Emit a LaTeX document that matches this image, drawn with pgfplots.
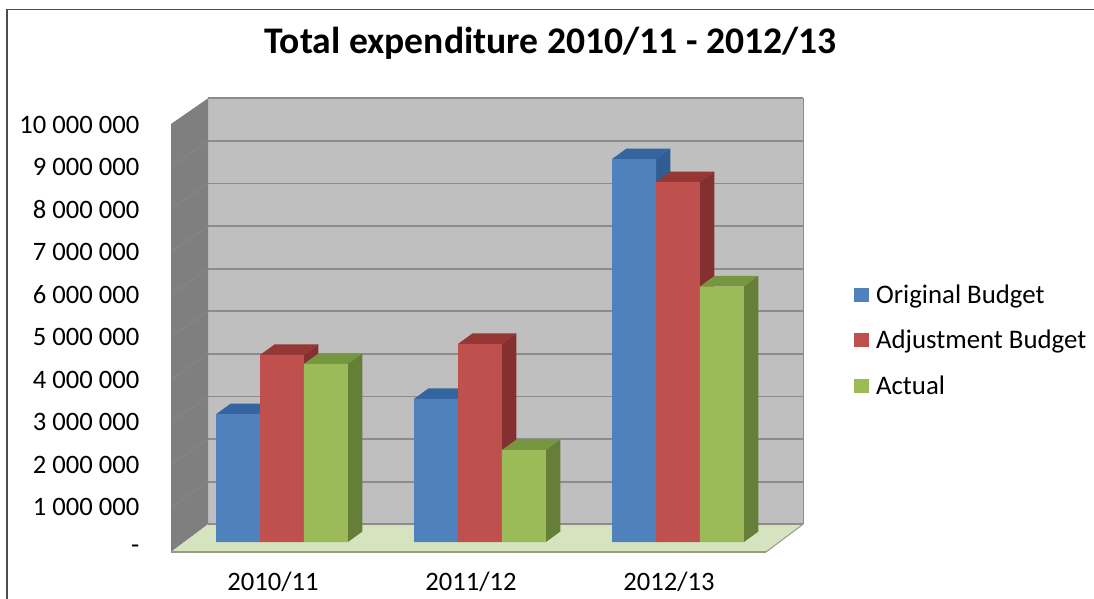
\documentclass[border=0pt]{standalone}
\usepackage{pgfplots}
\usepackage{pgfplotstable}
\usepackage{fontspec}
\setmainfont{Carlito}
\pgfplotsset{compat=1.18}

% Expenditure per year, in millions
\pgfplotstableread{
pos  orig  adj   act
0    3.00  4.39  4.18
1    3.36  4.65  2.16
2    8.99  8.45  6.00
}\expenditure

\definecolor{wallback}{HTML}{BFBFBF}
\definecolor{wallside}{HTML}{7F7F7F}
\definecolor{wallline}{HTML}{8C8C8C}
\definecolor{sideline}{HTML}{888888}
\definecolor{floorfill}{HTML}{D5E3BE}
\definecolor{flooredge}{HTML}{929C86}
\definecolor{blueface}{HTML}{4F81BD}
\definecolor{bluetop}{HTML}{34659E}
\definecolor{blueside}{HTML}{2F5D94}
\definecolor{redface}{HTML}{C0504D}
\definecolor{redtop}{HTML}{953735}
\definecolor{redside}{HTML}{843030}
\definecolor{greenface}{HTML}{9BBB59}
\definecolor{greentop}{HTML}{76963F}
\definecolor{greenside}{HTML}{657F38}

\pgfmathsetmacro{\barw}{0.2220}   % bar width, in group spacings
\pgfmathsetmacro{\depx}{0.0730}   % horizontal depth of a bar
\def\depy{0.2465}                 % vertical depth of a bar

% Top and side faces of one bar: row, column, shift, top colour, side colour
\newcommand{\barfaces}[5]{%
  \pgfplotstablegetelem{#1}{#2}\of\expenditure
  \let\barv\pgfplotsretval
  \pgfmathsetmacro{\xa}{#1+#3-0.5*\barw}%
  \pgfmathsetmacro{\xb}{#1+#3+0.5*\barw}%
  \pgfmathsetmacro{\xc}{\xa+\depx}%
  \pgfmathsetmacro{\xd}{\xb+\depx}%
  \pgfmathsetmacro{\vt}{\barv+\depy}%
  \addplot[fill=#4, draw=none, forget plot] coordinates
    {(\xa,\barv) (\xb,\barv) (\xd,\vt) (\xc,\vt)} -- cycle;
  \addplot[fill=#5, draw=none, forget plot] coordinates
    {(\xb,0) (\xd,\depy) (\xd,\vt) (\xb,\barv)} -- cycle;
}

\pgfplotsset{
  chartbox/.style={
    at={(171pt,48.5pt)}, anchor=south west,
    scale only axis, width=595pt, height=424.5pt,
    clip=false, axis line style={draw=none},
    major tick length=0pt,
  },
}

\begin{document}
\begin{tikzpicture}[x=1pt,y=1pt]
\useasboundingbox (0,0) rectangle (1094,598);

% Walls, floor, gridlines and the tick labels
\begin{axis}[
  chartbox,
  xmin=-0.5152, xmax=2.4899,
  ymin=0, ymax=10,
  xtick={0,1,2},
  xticklabels={2010/11,2011/12,2012/13},
  ytick={0,1,...,10},
  yticklabels={{-\hspace{12pt}},1 000 000,2 000 000,3 000 000,4 000 000,5 000 000,6 000 000,7 000 000,8 000 000,9 000 000,10 000 000},
  tick label style={font=\fontsize{26.6}{26.6}\selectfont},
  yticklabel style={anchor=east, inner sep=0pt, xshift=-31.5pt},
  xticklabel style={anchor=base, yshift=-41pt},
  title={\fontsize{37.6}{37.6}\selectfont\bfseries Total expenditure 2010/11 - 2012/13},
  title style={at={(0.5,1)}, anchor=base, xshift=82pt, yshift=65pt},
]
% outer frame
\addplot[draw=black!70, line width=1.5pt] coordinates {(-1.3434,-1.3) (-1.3434,12.72) (4.15,12.72)};
% back wall
\addplot[fill=wallback, draw=none] coordinates {(-0.328,0.5936) (2.677,0.5936) (2.677,10.629) (-0.328,10.629)} -- cycle;
% side wall
\addplot[fill=wallside, draw=none] coordinates {(-0.5152,-0.059) (-0.328,0.5936) (-0.328,10.629) (-0.5152,10.024)} -- cycle;
% floor
\addplot[fill=floorfill, draw=none] coordinates {(-0.5152,-0.059) (-0.328,0.5936) (2.677,0.5936) (2.4899,-0.059)} -- cycle;
% gridlines on the back wall
\addplot[wallline, line width=1.8pt] coordinates {(-0.328,10.629) (2.677,10.629)};
\addplot[wallline, line width=1.8pt] coordinates {(-0.328,9.6254) (2.677,9.6254)};
\addplot[wallline, line width=1.8pt] coordinates {(-0.328,8.6218) (2.677,8.6218)};
\addplot[wallline, line width=1.8pt] coordinates {(-0.328,7.6183) (2.677,7.6183)};
\addplot[wallline, line width=1.8pt] coordinates {(-0.328,6.6148) (2.677,6.6148)};
\addplot[wallline, line width=1.8pt] coordinates {(-0.328,5.6113) (2.677,5.6113)};
\addplot[wallline, line width=1.8pt] coordinates {(-0.328,4.6077) (2.677,4.6077)};
\addplot[wallline, line width=1.8pt] coordinates {(-0.328,3.6042) (2.677,3.6042)};
\addplot[wallline, line width=1.8pt] coordinates {(-0.328,2.6007) (2.677,2.6007)};
\addplot[wallline, line width=1.8pt] coordinates {(-0.328,1.597) (2.677,1.597)};
\addplot[wallline, line width=1.8pt] coordinates {(-0.328,0.5936) (2.677,0.5936)};
\addplot[wallline, line width=1pt] coordinates {(2.677,0.5936) (2.677,10.629)};
% the same gridlines running along the side wall
\addplot[sideline, line width=0.7pt] coordinates {(-0.5152,9.02) (-0.328,9.6254)};
\addplot[sideline, line width=0.7pt] coordinates {(-0.5152,8.017) (-0.328,8.6218)};
\addplot[sideline, line width=0.7pt] coordinates {(-0.5152,7.014) (-0.328,7.6183)};
\addplot[sideline, line width=0.7pt] coordinates {(-0.5152,6.011) (-0.328,6.6148)};
\addplot[sideline, line width=0.7pt] coordinates {(-0.5152,5.007) (-0.328,5.6113)};
\addplot[sideline, line width=0.7pt] coordinates {(-0.5152,4.004) (-0.328,4.6077)};
\addplot[sideline, line width=0.7pt] coordinates {(-0.5152,3.0) (-0.328,3.6042)};
\addplot[sideline, line width=0.7pt] coordinates {(-0.5152,1.997) (-0.328,2.6007)};
\addplot[sideline, line width=0.7pt] coordinates {(-0.5152,0.993) (-0.328,1.597)};
% floor edges
\addplot[flooredge, line width=1.8pt] coordinates {(-0.5152,-0.059) (2.4899,-0.059)};
\addplot[flooredge, line width=1pt] coordinates {(2.4899,-0.059) (2.677,0.5936)};
\end{axis}

% The bars, on the plane halfway through the depth of the floor
\begin{axis}[
  chartbox,
  xmin=-0.5606, xmax=2.4444,
  ymin=-0.17606, ymax=9.7887,
  xtick=\empty, ytick=\empty,
  legend style={draw=none, fill=none, at={(1.1427,0.493)}, anchor=west,
    font=\fontsize{26.8}{26.8}\selectfont, row sep=21.5pt},
  legend cell align=left,
  legend image code/.code={\fill[#1] (0pt,-7pt) rectangle (15pt,7pt); \path (20pt,0pt);},
  bar width=0.2220,
]
\barfaces{0}{orig}{-0.2220}{bluetop}{blueside}
\barfaces{1}{orig}{-0.2220}{bluetop}{blueside}
\barfaces{2}{orig}{-0.2220}{bluetop}{blueside}
\addplot[ybar, bar shift=-0.2220, fill=blueface, draw=none] table[x=pos, y=orig] {\expenditure};
\addlegendentry{Original Budget}
\barfaces{0}{adj}{0}{redtop}{redside}
\barfaces{1}{adj}{0}{redtop}{redside}
\barfaces{2}{adj}{0}{redtop}{redside}
\addplot[ybar, bar shift=0, fill=redface, draw=none] table[x=pos, y=adj] {\expenditure};
\addlegendentry{Adjustment Budget}
\barfaces{0}{act}{0.2220}{greentop}{greenside}
\barfaces{1}{act}{0.2220}{greentop}{greenside}
\barfaces{2}{act}{0.2220}{greentop}{greenside}
\addplot[ybar, bar shift=0.2220, fill=greenface, draw=none] table[x=pos, y=act] {\expenditure};
\addlegendentry{Actual}
\end{axis}
\end{tikzpicture}
\end{document}
